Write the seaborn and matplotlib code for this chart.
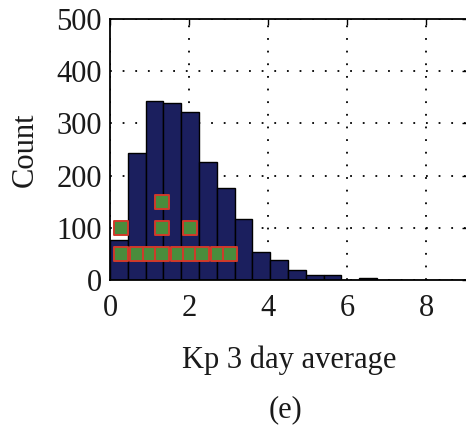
import matplotlib
matplotlib.use("Agg")
import matplotlib.pyplot as plt
import seaborn as sns
import numpy as np
import pandas as pd

# Histogram of 3-day average Kp (20 bins of width 0.45 over 0..9)
bin_edges = np.linspace(0, 9, 21)
bin_counts = [76, 244, 342, 340, 321, 227, 177, 117, 53, 39,
              20, 10, 10, 0, 4, 0, 0, 0, 0, 0]
bin_centers = (bin_edges[:-1] + bin_edges[1:]) / 2

# Event markers (Kp value, count level)
event_kp = [0.29, 0.69, 1.01, 1.32, 1.71, 2.02, 2.33, 2.73, 3.04,
            0.29, 1.32, 2.02,
            1.32]
event_level = [50, 50, 50, 50, 50, 50, 50, 50, 50,
               100, 100, 100,
               150]

x_ticks = [0, 2, 4, 6, 8]
y_ticks = [0, 100, 200, 300, 400, 500]

hist_df = pd.DataFrame({"kp": bin_centers, "count": bin_counts})
event_df = pd.DataFrame({"kp": event_kp, "level": event_level})

sns.set_style("white")
plt.rcParams["font.family"] = ["Liberation Serif", "DejaVu Serif"]
text_color = "#1a1a1a"

fig = plt.figure(figsize=(4.66, 4.38), dpi=100)
ax = fig.add_axes([110 / 466, 1 - 280 / 438, 358 / 466, 261 / 438])

sns.histplot(data=hist_df, x="kp", weights="count", bins=list(bin_edges), ax=ax,
             color="#1b1f5e", alpha=1.0, edgecolor="black", linewidth=1.0,
             zorder=2)
sns.scatterplot(data=event_df, x="kp", y="level", ax=ax, marker="s", s=9.4 ** 2,
                color="#4a8c3c", edgecolor="#d03a2a", linewidth=1.4,
                zorder=3, legend=False)

ax.set_xlim(0, 9.05)
ax.set_ylim(0, 500)
ax.set_xticks(x_ticks)
ax.set_yticks(y_ticks)
ax.set_axisbelow(True)
ax.grid(True, color="black", linestyle=(0, (1, 6)), linewidth=1.3)

ax.tick_params(direction="in", length=4, width=1.0, labelsize=22,
               top=True, right=True, colors="black", labelcolor=text_color)
ax.tick_params(axis="x", pad=10)
ax.tick_params(axis="y", pad=6)
for sp in ax.spines.values():
    sp.set_visible(True)
    sp.set_color("black")
    sp.set_linewidth(1.3)

ax.set_xlabel("Kp 3 day average", fontsize=22, labelpad=16, color=text_color)
ax.set_ylabel("Count", fontsize=22, labelpad=12, color=text_color)
fig.text(285 / 466, 1 - 410 / 438, "(e)", fontsize=22, ha="center", va="center",
         color=text_color)

fig.savefig("out.png", dpi=100)
